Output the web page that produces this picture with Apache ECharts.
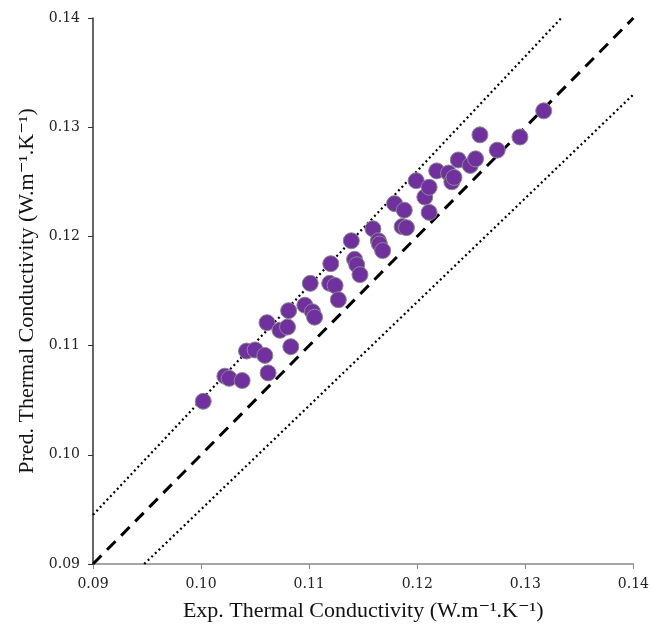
<!DOCTYPE html>
<html>
<head>
<meta charset="utf-8">
<script src="https://cdn.jsdelivr.net/npm/echarts@6/dist/echarts.min.js"></script>
<style>
  html, body { margin: 0; padding: 0; background: #fff; }
  #chart { width: 652px; height: 629px; }
</style>
</head>
<body>
<div id="chart"></div>
<script>
// experimental vs predicted thermal conductivity
const expValues = [
  0.1002, 0.1022, 0.1026, 0.1038, 0.1042, 0.1050, 0.1059, 0.1061, 0.1062, 0.1073,
  0.1080, 0.1081, 0.1083, 0.1096, 0.1101, 0.1103, 0.1105, 0.1120, 0.1119, 0.1124,
  0.1127, 0.1139, 0.1142, 0.1144, 0.1147, 0.1159, 0.1164, 0.1165, 0.1168, 0.1179,
  0.1186, 0.1188, 0.1190, 0.1199, 0.1207, 0.1211, 0.1211, 0.1218, 0.1229, 0.1232,
  0.1234, 0.1238, 0.1249, 0.1254, 0.1258, 0.1274, 0.1295, 0.1317
];
const predValues = [
  0.1049, 0.1072, 0.1070, 0.1068, 0.1095, 0.1096, 0.1091, 0.1121, 0.1075, 0.1114,
  0.1117, 0.1132, 0.1099, 0.1137, 0.1157, 0.1131, 0.1126, 0.1175, 0.1157, 0.1155,
  0.1142, 0.1196, 0.1179, 0.1174, 0.1165, 0.1207, 0.1196, 0.1193, 0.1187, 0.1230,
  0.1209, 0.1224, 0.1208, 0.1251, 0.1236, 0.1245, 0.1222, 0.1260, 0.1258, 0.1250,
  0.1254, 0.1270, 0.1265, 0.1271, 0.1293, 0.1279, 0.1291, 0.1315
];
// reference lines: y = x, y = 1.05x, y = 0.95x
const lineEqual = [[0.09, 0.09], [0.14, 0.14]];
const lineUpper = [[0.09, 0.0945], [0.13333, 0.14]];
const lineLower = [[0.094737, 0.09], [0.14, 0.133]];
const tickValues = ['0.09', '0.10', '0.11', '0.12', '0.13', '0.14'];

const points = expValues.map((v, i) => [v, predValues[i]]);
const nameFont = '"Liberation Serif", "DejaVu Serif", serif';
const tickFont = '"DejaVu Serif", serif';

const chart = echarts.init(document.getElementById('chart'));

function makeAxis(lineColor){
  return {
    type: 'value',
    min: 0.09,
    max: 0.14,
    interval: 0.01,
    nameLocation: 'middle',
    nameTextStyle: { fontFamily: nameFont, fontSize: 22, color: '#111' },
    axisLine: { show: true, onZero: false, lineStyle: { color: lineColor, width: 1.5 } },
    axisTick: { show: true, inside: false, length: 5, lineStyle: { color: lineColor } },
    axisLabel: {
      fontFamily: tickFont, fontSize: 14, color: '#222', margin: 13,
      formatter: v => tickValues.find(t => Math.abs(parseFloat(t) - v) < 1e-6) || ''
    },
    splitLine: { show: false }
  }
}

chart.setOption({
  animation: false,
  grid: { left: 93, right: 16, top: 18, bottom: 65 },
  xAxis: Object.assign(makeAxis('#888'), {
    name: 'Exp. Thermal Conductivity (W.m\u207B\u00B9.K\u207B\u00B9)',
    nameGap: 36
  }),
  yAxis: Object.assign(makeAxis('#333'), {
    name: 'Pred. Thermal Conductivity (W.m\u207B\u00B9.K\u207B\u00B9)',
    nameGap: 50
  }),
  series: [
    {
      type: 'line', data: lineUpper, symbol: 'none', silent: true, z: 1,
      lineStyle: { color: '#000', width: 2.2, type: [2, 3] }
    },
    {
      type: 'line', data: lineLower, symbol: 'none', silent: true, z: 1,
      lineStyle: { color: '#000', width: 2.2, type: [2, 3] }
    },
    {
      type: 'line', data: lineEqual, symbol: 'none', silent: true, z: 1,
      lineStyle: { color: '#000', width: 3, type: [12, 8] }
    },
    {
      type: 'scatter', data: points, symbolSize: 16, z: 5,
      itemStyle: { color: '#7030A0', borderColor: '#8a8a8a', borderWidth: 1, opacity: 1 }
    }
  ]
});
</script>
</body>
</html>
